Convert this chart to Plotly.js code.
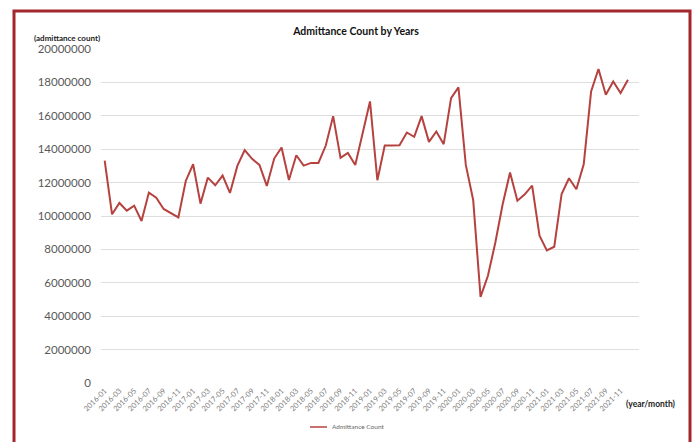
<!DOCTYPE html>
<html>
<head>
<meta charset="utf-8">
<script src="https://cdn.plot.ly/plotly-3.0.1.min.js"></script>
<style>
  html, body { margin: 0; padding: 0; background: #ffffff; }
  #chart { width: 694px; height: 442px; }
</style>
</head>
<body>
<div id="chart"></div>
<script>
// Monthly admittance counts, one array per year (Jan..Dec)
const v2016 = [13320000, 10100000, 10780000, 10320000, 10620000, 9700000, 11400000, 11100000, 10420000, 10180000, 9920000, 12100000];
const v2017 = [13100000, 10740000, 12300000, 11840000, 12420000, 11380000, 13000000, 13950000, 13420000, 13060000, 11800000, 13440000];
const v2018 = [14100000, 12160000, 13640000, 13020000, 13180000, 13180000, 14220000, 15980000, 13480000, 13780000, 13060000, 14950000];
const v2019 = [16860000, 12140000, 14220000, 14220000, 14240000, 15000000, 14740000, 15980000, 14440000, 15060000, 14300000, 17060000];
const v2020 = [17700000, 13060000, 10960000, 5160000, 6420000, 8400000, 10700000, 12600000, 10920000, 11300000, 11820000, 8820000];
const v2021 = [7940000, 8160000, 11320000, 12260000, 11600000, 13100000, 17460000, 18800000, 17260000, 18060000, 17360000, 18160000];

const years = [2016, 2017, 2018, 2019, 2020, 2021];
const seriesName = 'Admittance Count';

// Category labels "YYYY-MM"
const months = [];
years.forEach(y => {
  for (let m = 1; m <= 12; m++) months.push(y + '-' + String(m).padStart(2, '0'));
});
const counts = [].concat(v2016, v2017, v2018, v2019, v2020, v2021);

// Every second month is labelled on the axis
const tickMonths = months.filter((_, i) => i % 2 === 0);

const lineColor = '#b5423f';
const frameColor = '#a3262c';
const font = 'Lato, "Open Sans", "Liberation Sans", sans-serif';

const trace = {
  type: 'scatter',
  mode: 'lines',
  x: months,
  y: counts,
  name: seriesName,
  line: { color: lineColor, width: 2 },
  showlegend: false,
  hoverinfo: 'x+y'
};

const layout = {
  width: 694,
  height: 442,
  margin: { l: 101, r: 55, t: 49, b: 59 },
  paper_bgcolor: '#ffffff',
  plot_bgcolor: '#ffffff',
  font: { family: font, color: '#595959' },
  title: {
    text: '<b>Admittance Count by Years</b>',
    font: { family: font, size: 10.5, color: '#111111' },
    xref: 'paper', x: 0.474, xanchor: 'center',
    yref: 'container', y: 0.93, yanchor: 'middle'
  },
  xaxis: {
    type: 'category',
    range: [-0.5, 72.5],
    tickmode: 'array',
    tickvals: tickMonths,
    ticktext: tickMonths,
    tickangle: -45,
    tickfont: { family: font, size: 7.5, color: '#7a7a7a' },
    ticklabelstandoff: 1,
    showgrid: false,
    zeroline: false,
    showline: false,
    ticks: ''
  },
  yaxis: {
    range: [0, 20000000],
    dtick: 2000000,
    tick0: 0,
    tickformat: 'd',
    tickfont: { family: font, size: 11.5, color: '#595959' },
    gridcolor: '#dedede',
    gridwidth: 1,
    zeroline: false,
    showline: false,
    ticks: '',
    ticklabelstandoff: 9
  },
  shapes: [
    // outer frame
    {
      type: 'rect', xref: 'paper', yref: 'paper',
      x0: -0.1617, x1: 1.0948, y0: -0.21, y1: 1.1138,
      line: { color: frameColor, width: 3 },
      fillcolor: 'rgba(0,0,0,0)', layer: 'above'
    },
    // legend key line
    {
      type: 'line', xref: 'paper', yref: 'paper',
      x0: 0.3885, x1: 0.42, y0: -0.1317, y1: -0.1317,
      line: { color: lineColor, width: 1.5 }
    }
  ],
  annotations: [
    {
      text: '<b>(admittance count)</b>',
      xref: 'paper', yref: 'paper', x: -0.128, y: 1.033,
      xanchor: 'left', yanchor: 'middle', showarrow: false,
      font: { family: font, size: 8, color: '#222222' }
    },
    {
      text: '<b>(year/month)</b>',
      xref: 'paper', yref: 'paper', x: 0.972, y: -0.063,
      xanchor: 'left', yanchor: 'middle', showarrow: false,
      font: { family: font, size: 8.5, color: '#222222' }
    },
    {
      text: seriesName,
      xref: 'paper', yref: 'paper', x: 0.425, y: -0.1317,
      xanchor: 'left', yanchor: 'middle', showarrow: false,
      font: { family: font, size: 6.5, color: '#666666' }
    }
  ]
};

Plotly.newPlot('chart', [trace], layout, { displayModeBar: false, staticPlot: true });
</script>
</body>
</html>
